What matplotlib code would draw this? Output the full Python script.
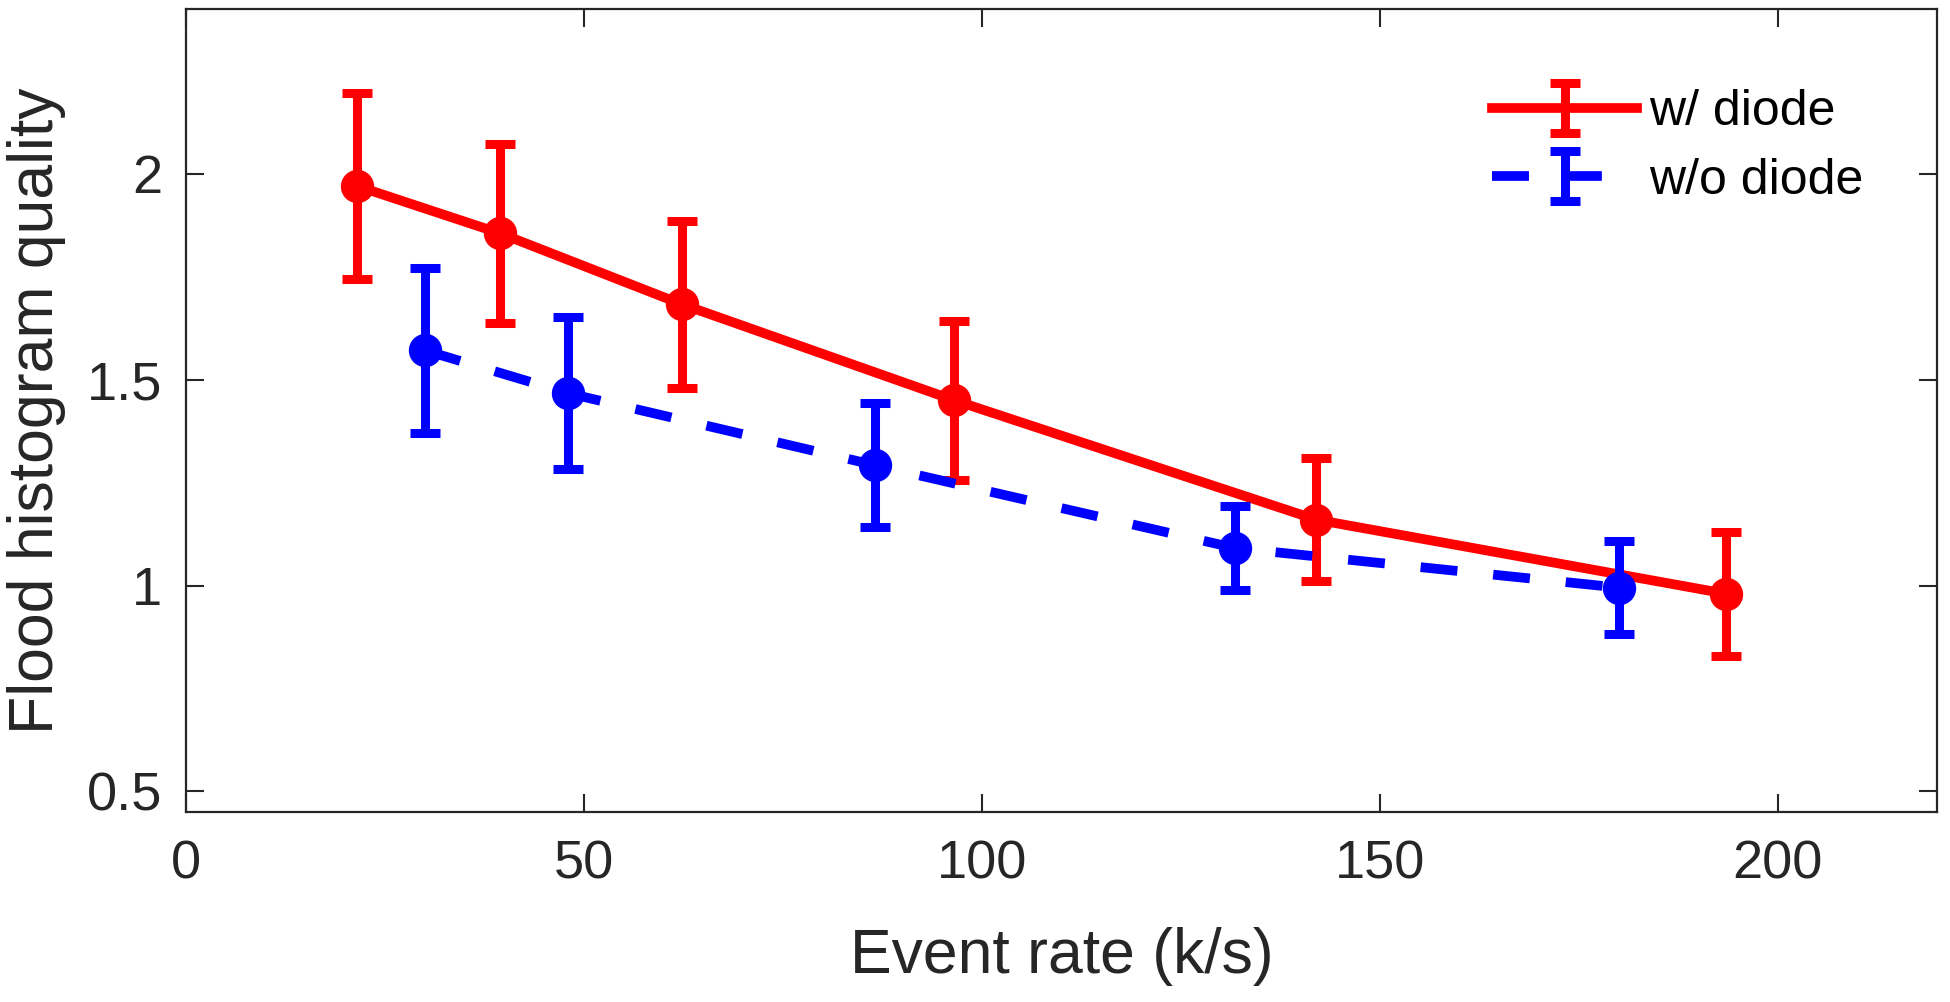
import matplotlib
matplotlib.use('Agg')
import matplotlib.pyplot as plt
import numpy as np

# Data
rate_diode = [21.5, 39.5, 62.3, 96.5, 142.0, 193.5]
quality_diode = [1.97, 1.855, 1.683, 1.45, 1.16, 0.98]
err_diode = [0.225, 0.218, 0.203, 0.193, 0.15, 0.15]

rate_nodiode = [30.0, 48.0, 86.6, 131.8, 180.0]
quality_nodiode = [1.571, 1.467, 1.292, 1.091, 0.995]
err_nodiode = [0.2, 0.185, 0.15, 0.103, 0.113]

labels = ['w/ diode', 'w/o diode']
x_ticks = [0, 50, 100, 150, 200]
y_ticks = [0.5, 1, 1.5, 2]
y_tick_labels = ['0.5', '1', '1.5', '2']

plt.rcParams['font.family'] = ['Liberation Sans', 'DejaVu Sans']
TXT = '#262626'

fig = plt.figure(figsize=(19.5, 10.02), dpi=100)
W, H = 1950, 1002
left, right, top, bottom = 186, 1937, 9, 812
ax = fig.add_axes([left / W, 1 - bottom / H, (right - left) / W, (bottom - top) / H])

lw = 7.0
elw = 6.5
ms = 23
cap = 10.5
DASH = (3.8, 3.7)

ax.errorbar(rate_diode, quality_diode, yerr=err_diode, color='red', lw=lw,
            elinewidth=elw, capsize=cap, capthick=elw, marker='o', ms=ms,
            zorder=2)
eb2 = ax.errorbar(rate_nodiode, quality_nodiode, yerr=err_nodiode, color='blue', lw=lw,
                  elinewidth=elw, capsize=cap, capthick=elw, marker='o', ms=ms,
                  zorder=3)
eb2[0].set_dashes(DASH)
eb2[0].set_dash_capstyle('butt')

# legend proxies (no markers, as in the reference)
p1 = ax.errorbar([np.nan], [np.nan], yerr=[np.nan], color='red', lw=lw,
                 elinewidth=elw, capsize=cap, capthick=elw)
p2 = ax.errorbar([np.nan], [np.nan], yerr=[np.nan], color='blue', lw=lw,
                 elinewidth=elw, capsize=cap, capthick=elw)
p2[0].set_dashes(DASH)
p2[0].set_dash_capstyle('butt')

leg = ax.legend([p1, p2], labels, loc='upper left',
                bbox_to_anchor=(1492 / W, 1 - 89 / H), bbox_transform=fig.transFigure,
                frameon=False, fontsize=36, handlelength=2.9, handletextpad=0.25,
                labelspacing=0.45, borderpad=0, borderaxespad=0)
for t in leg.get_texts():
    t.set_color('black')

ax.set_xlim(0, 220)
ax.set_ylim(0.45, 2.4)
ax.set_xticks(x_ticks)
ax.set_yticks(y_ticks)
ax.set_yticklabels(y_tick_labels)

for s in ax.spines.values():
    s.set_color(TXT)
    s.set_linewidth(1.6)
ax.tick_params(direction='in', length=13, width=1.5, colors=TXT, labelsize=39,
               top=True, right=True)
ax.tick_params(axis='x', pad=20)
ax.tick_params(axis='y', pad=17)

ax.set_xlabel('Event rate (k/s)', fontsize=45, color=TXT)
ax.set_ylabel('Flood histogram quality', fontsize=45, color=TXT)
ax.xaxis.label.set_va('center')
ax.yaxis.label.set_va('center')
ax.xaxis.set_label_coords(0.5, (bottom - 957) / (bottom - top))
ax.yaxis.set_label_coords((37 - left) / (right - left), 0.5)

fig.savefig('out.png', dpi=100)
